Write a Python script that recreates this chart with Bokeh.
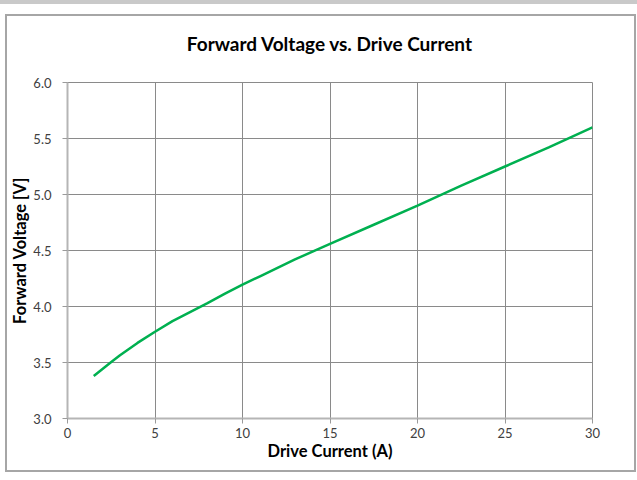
from bokeh.plotting import figure
from bokeh.models import FixedTicker, NumeralTickFormatter, Range1d, InlineStyleSheet
from bokeh.embed import file_html
from bokeh.resources import INLINE

current_a = [1.5, 2.5, 3.0, 4.0, 5.0, 6.0, 7.0, 8.0, 9.0, 10.0, 11.0, 12.0, 13.0, 14.0,
             15.0, 17.5, 20.0, 22.5, 25.0, 27.5, 30.0]
voltage_v = [3.38, 3.505, 3.565, 3.675, 3.775, 3.87, 3.95, 4.03, 4.115, 4.195, 4.27, 4.345, 4.42, 4.49,
             4.56, 4.73, 4.90, 5.08, 5.25, 5.42, 5.60]
x_ticks = [0, 5, 10, 15, 20, 25, 30]
y_ticks = [3.0, 3.5, 4.0, 4.5, 5.0, 5.5, 6.0]
title_text = "Forward Voltage vs. Drive Current"

FONT = "Lato"
GRID = "#8a8a8a"

css = InlineStyleSheet(css="""
:host { position: relative; }
:host::before { content: ""; position: absolute; left: 0px; top: 0px; width: 637px; height: 4px;
                background: #c9c9c9; pointer-events: none; z-index: 10; }
:host::after { content: ""; position: absolute; left: 5px; top: 14px; width: 627px; height: 454px;
               border: 2px solid #a6a6a6; pointer-events: none; z-index: 10; }
""")

p = figure(width=637, height=480, output_backend="svg", toolbar_location=None,
           x_range=Range1d(0, 30), y_range=Range1d(3.0, 6.0),
           min_border_left=67, min_border_right=45, min_border_top=82, min_border_bottom=62,
           title=title_text, stylesheets=[css])

p.title.text_font = FONT
p.title.text_font_size = "19px"
p.title.text_font_style = "bold"
p.title.text_color = "#000000"
p.title.align = "center"
p.title.standoff = 56

p.line(current_a, voltage_v, line_color="#00b050", line_width=2.5)

for ax in (p.xaxis[0], p.yaxis[0]):
    ax.axis_line_color = "#b5b5b5"
    ax.axis_line_width = 2
    ax.major_tick_line_color = "#9a9a9a"
    ax.major_tick_out = 5
    ax.major_tick_in = 0
    ax.minor_tick_line_color = None
    ax.major_label_text_font = FONT
    ax.major_label_text_font_size = "13px"
    ax.major_label_text_color = "#404040"
    ax.axis_label_text_font = FONT
    ax.axis_label_text_font_size = "16.5px"
    ax.axis_label_text_font_style = "bold"
    ax.axis_label_text_color = "#000000"

p.xaxis.ticker = FixedTicker(ticks=x_ticks)
p.yaxis.ticker = FixedTicker(ticks=y_ticks)
p.yaxis.formatter = NumeralTickFormatter(format="0.0")
p.xaxis.axis_label = "Drive Current (A)"
p.yaxis.axis_label = "Forward Voltage [V]"
p.xaxis.major_label_standoff = 4
p.yaxis.major_label_standoff = 11
p.xaxis.axis_label_standoff = 0
p.yaxis.axis_label_standoff = 0

p.xgrid.ticker = FixedTicker(ticks=x_ticks)
p.ygrid.ticker = FixedTicker(ticks=y_ticks)
p.grid.grid_line_color = GRID
p.grid.grid_line_width = 1
p.outline_line_color = GRID

open("out.html", "w").write(file_html(p, INLINE))
